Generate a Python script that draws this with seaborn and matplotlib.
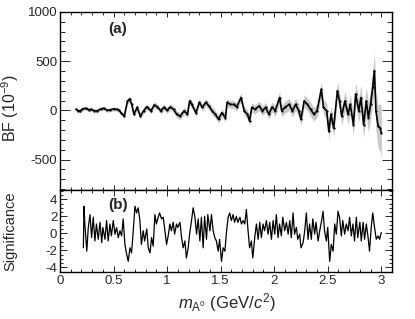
import matplotlib
matplotlib.use("Agg")
import matplotlib.pyplot as plt
from matplotlib.ticker import MultipleLocator
import seaborn as sns
import pandas as pd

# ---- data ----
bf_mass = [0.15, 0.17, 0.19, 0.21, 0.24, 0.27, 0.29, 0.32, 0.35, 0.38, 0.41, 0.44, 0.47,
           0.50, 0.53, 0.55, 0.57, 0.60, 0.63, 0.65, 0.67, 0.69, 0.72, 0.75, 0.78, 0.81,
           0.85, 0.88, 0.91, 0.94, 0.97, 1.00, 1.03, 1.06, 1.09, 1.12, 1.16, 1.19, 1.21,
           1.23, 1.27, 1.30, 1.33, 1.36, 1.39, 1.42, 1.45, 1.48, 1.51, 1.545, 1.56, 1.59,
           1.62, 1.65, 1.69, 1.72, 1.75, 1.77, 1.79, 1.82, 1.86, 1.89, 1.92, 1.95, 1.98,
           2.01, 2.05, 2.07, 2.10, 2.14, 2.17, 2.20, 2.23, 2.25, 2.28, 2.31, 2.34, 2.37,
           2.40, 2.44, 2.46, 2.49, 2.51, 2.53, 2.555, 2.59, 2.61, 2.63, 2.66, 2.69, 2.71,
           2.74, 2.76, 2.79, 2.81, 2.835, 2.86, 2.88, 2.90, 2.92, 2.935, 2.95, 2.97, 2.99, 3.00]
bf_value = [10, -5, -5, 15, 20, 5, 10, -5, -5, 15, 20, 0, 5,
            15, 10, 0, -25, -60, 95, 115, 60, -40, 30, -60, -5, 35,
            -5, 55, 35, -5, 30, 0, 35, 10, -40, -60, -5, -40, 95,
            60, -25, 80, 30, 80, 45, -5, -40, -90, -25, -75, 80, 60,
            60, 35, 130, -5, -40, -110, 30, 10, 45, -5, 30, -40, 35,
            -5, 130, -5, 30, 60, -5, 60, -5, -90, 95, 60, 10, -40,
            -5, 215, 30, -5, -215, -40, -180, 200, 95, -60, 95, -40, 60,
            -145, 165, -5, 130, -145, 95, -75, 60, 235, 405, -5, -160, -180, -230]
bf_error = [20, 20, 20, 20, 20, 20, 20, 20, 20, 20, 20, 20, 20,
            20, 20, 20, 22, 25, 30, 30, 30, 30, 30, 30, 30, 30,
            30, 30, 30, 30, 30, 32, 32, 32, 35, 35, 35, 35, 35,
            35, 35, 38, 38, 38, 38, 40, 40, 40, 40, 40, 40, 40,
            40, 42, 45, 45, 45, 45, 45, 45, 48, 48, 50, 50, 50,
            55, 60, 60, 60, 60, 60, 62, 65, 65, 65, 65, 70, 70,
            70, 75, 75, 80, 85, 85, 90, 90, 90, 95, 100, 100, 105,
            110, 115, 120, 125, 130, 140, 150, 160, 170, 180, 200, 220, 240, 260]

sig_mass = [0.218, 0.224, 0.232, 0.25, 0.264, 0.28, 0.295, 0.31, 0.326, 0.34, 0.357, 0.373,
            0.39, 0.40, 0.42, 0.435, 0.45, 0.466, 0.48, 0.497, 0.513, 0.528, 0.544, 0.56,
            0.575, 0.59, 0.606, 0.62, 0.637, 0.653, 0.668, 0.684, 0.70, 0.715, 0.73, 0.746,
            0.76, 0.777, 0.79, 0.81, 0.824, 0.84, 0.855, 0.87, 0.886, 0.90, 0.917, 0.93,
            0.948, 0.964, 0.98, 0.995, 1.01, 1.026, 1.04, 1.057, 1.07, 1.088, 1.10, 1.12,
            1.135, 1.15, 1.166, 1.18, 1.197, 1.21, 1.228, 1.243, 1.26, 1.275, 1.29, 1.306,
            1.32, 1.337, 1.35, 1.368, 1.38, 1.40, 1.414, 1.43, 1.445, 1.46, 1.477, 1.49,
            1.508, 1.523, 1.54, 1.554, 1.57, 1.585, 1.60, 1.616, 1.63, 1.647, 1.66, 1.68,
            1.694, 1.71, 1.725, 1.74, 1.756, 1.77, 1.787, 1.80, 1.82, 1.834, 1.85, 1.865,
            1.88, 1.896, 1.91, 1.927, 1.943, 1.958, 1.974, 1.99, 2.005, 2.02, 2.036, 2.05,
            2.067, 2.08, 2.098, 2.114, 2.13, 2.145, 2.16, 2.176, 2.19, 2.207, 2.22, 2.238,
            2.25, 2.27, 2.285, 2.30, 2.316, 2.33, 2.347, 2.36, 2.378, 2.39, 2.41, 2.425,
            2.44, 2.456, 2.47, 2.487, 2.50, 2.518, 2.533, 2.55, 2.565, 2.58, 2.596, 2.61,
            2.627, 2.64, 2.658, 2.673, 2.69, 2.704, 2.72, 2.735, 2.75, 2.767, 2.78, 2.80,
            2.813, 2.83, 2.844, 2.86, 2.875, 2.89, 2.906, 2.92, 2.937, 2.953, 2.97, 2.984, 3.0]
sig_value = [-1.7, 3.2, 1.1, -2.1, 0.7, 2.2, -0.5, 1.9, -0.9, 1.1, -0.7, 1.3,
             -1.1, 0.7, -0.7, 1.5, -0.9, 1.1, -0.3, 1.5, -0.1, 0.7, -0.5, 0.3,
             -0.3, 1.7, -1.3, -2.3, -3.3, -1.7, -2.3, 0.3, 3.2, 2.4, 3.0, 1.5,
             -1.3, 0.3, -0.9, 0.5, -1.7, -2.3, -0.5, -1.5, 2.2, 1.1, 1.9, 2.4,
             1.7, 1.9, 0.3, -1.3, -0.3, 1.1, 0.3, 1.3, -0.1, 1.1, 0.7, 1.3,
             -0.5, -1.7, -0.9, -2.9, -1.7, -0.1, 1.5, 3.0, 1.9, -0.1, 1.7, -0.9,
             1.9, -1.7, 2.0, -0.7, 2.2, 0.3, 2.2, 0.3, -0.5, -0.9, -2.1, -0.7,
             -3.3, -1.7, -2.1, 0.1, 1.9, 2.4, 1.5, 2.2, 1.3, 2.0, 1.3, 1.9,
             1.1, 1.5, 1.1, 2.8, 0.3, -1.7, -0.9, -2.9, -0.3, 1.1, -0.7, 1.3,
             -0.5, 1.1, 0.3, 1.5, -0.1, 1.3, -0.7, 1.5, -0.1, 2.2, -0.5, 1.1,
             -0.3, 1.9, 0.3, 1.3, -0.1, 1.5, -0.5, 2.4, -0.1, 0.7, -0.7, -0.1,
             -1.7, -1.1, 0.3, 2.4, -0.7, 1.1, -0.7, 1.7, -0.1, 1.3, -0.9, 0.3,
             1.3, 2.6, 0.3, -0.9, 0.7, -3.3, -1.3, -2.1, 1.1, -0.1, 2.6, 1.9,
             -0.3, 1.5, -0.1, 1.1, 0.3, 1.9, -0.3, 1.1, -0.9, 1.9, -0.5, 1.3,
             -0.9, 1.3, -0.7, 1.1, -0.3, -2.1, 0.7, 2.4, 0.7, -0.7, -0.3, -0.7, 0.1]

bf_df = pd.DataFrame({"mass": bf_mass, "bf": bf_value, "err": bf_error})
sig_df = pd.DataFrame({"mass": sig_mass, "sig": sig_value})

# ---- style ----
sns.set_style("ticks")
plt.rcParams["font.family"] = ["Liberation Sans", "DejaVu Sans"]
plt.rcParams["mathtext.fontset"] = "custom"
plt.rcParams["mathtext.rm"] = "Liberation Sans"
plt.rcParams["mathtext.it"] = "Liberation Sans:italic"
plt.rcParams["mathtext.bf"] = "Liberation Sans:bold"
plt.rcParams["axes.unicode_minus"] = False

fig = plt.figure(figsize=(4.15, 3.19), dpi=100)
ax1 = fig.add_axes([0.1446, 0.4044, 0.800, 0.558])
ax2 = fig.add_axes([0.1446, 0.146, 0.800, 0.2584], sharex=ax1)

# top panel: BF with error band
ax1.fill_between(bf_df["mass"], bf_df["bf"] - bf_df["err"], bf_df["bf"] + bf_df["err"],
                 color="#c9c9c9", lw=0, zorder=1)
sns.lineplot(data=bf_df, x="mass", y="bf", ax=ax1, color="black", lw=1.2,
             marker="o", markersize=1.6, markeredgewidth=0, zorder=3)
ax1.set_xlim(0, 3.1)
ax1.set_ylim(-810, 1000)
ax1.yaxis.set_major_locator(MultipleLocator(500))
ax1.yaxis.set_minor_locator(MultipleLocator(100))
ax1.xaxis.set_major_locator(MultipleLocator(0.5))
ax1.xaxis.set_minor_locator(MultipleLocator(0.1))
ax1.set_xlabel("")
ax1.set_ylabel("BF (10$^{-9}$)", fontsize=11.5)
ax1.yaxis.set_label_coords(-0.117, 0.46)
ax1.tick_params(axis="x", labelbottom=False)
ax1.text(0.175, 0.905, "(a)", transform=ax1.transAxes, fontsize=11,
         fontweight="bold", ha="center", va="center")

# bottom panel: significance
sns.lineplot(data=sig_df, x="mass", y="sig", ax=ax2, color="black", lw=0.9)
ax2.set_ylim(-4.6, 5.1)
ax2.yaxis.set_major_locator(MultipleLocator(2))
ax2.yaxis.set_minor_locator(MultipleLocator(0.5))
ax2.set_ylabel("Significance", fontsize=10.5)
ax2.yaxis.set_label_coords(-0.128, 0.5)
ax2.set_xlabel(r"$m_{\mathrm{A}^0}$ (GeV/$c^2$)", fontsize=12)
ax2.xaxis.set_label_coords(0.503, -0.23)
ax2.text(0.175, 0.82, "(b)", transform=ax2.transAxes, fontsize=11,
         fontweight="bold", ha="center", va="center")

for ax in (ax1, ax2):
    for s in ax.spines.values():
        s.set_linewidth(1.0)
        s.set_color("black")
    ax.tick_params(which="both", direction="in", top=True, right=True,
                   width=0.7, labelsize=9.5, pad=2)
ax1.tick_params(axis="y", which="major", length=7)
ax1.tick_params(axis="y", which="minor", length=3.5)
ax1.tick_params(axis="x", which="major", length=3.5)
ax1.tick_params(axis="x", which="minor", length=2)
ax2.tick_params(axis="y", which="major", length=5)
ax2.tick_params(axis="y", which="minor", length=2.5)
ax2.tick_params(axis="x", which="major", length=4)
ax2.tick_params(axis="x", which="minor", length=2)
ax2.set_xticks([0, 0.5, 1, 1.5, 2, 2.5, 3])
ax2.set_xticklabels(["0", "0.5", "1", "1.5", "2", "2.5", "3"])

fig.savefig("out.png", dpi=100)
